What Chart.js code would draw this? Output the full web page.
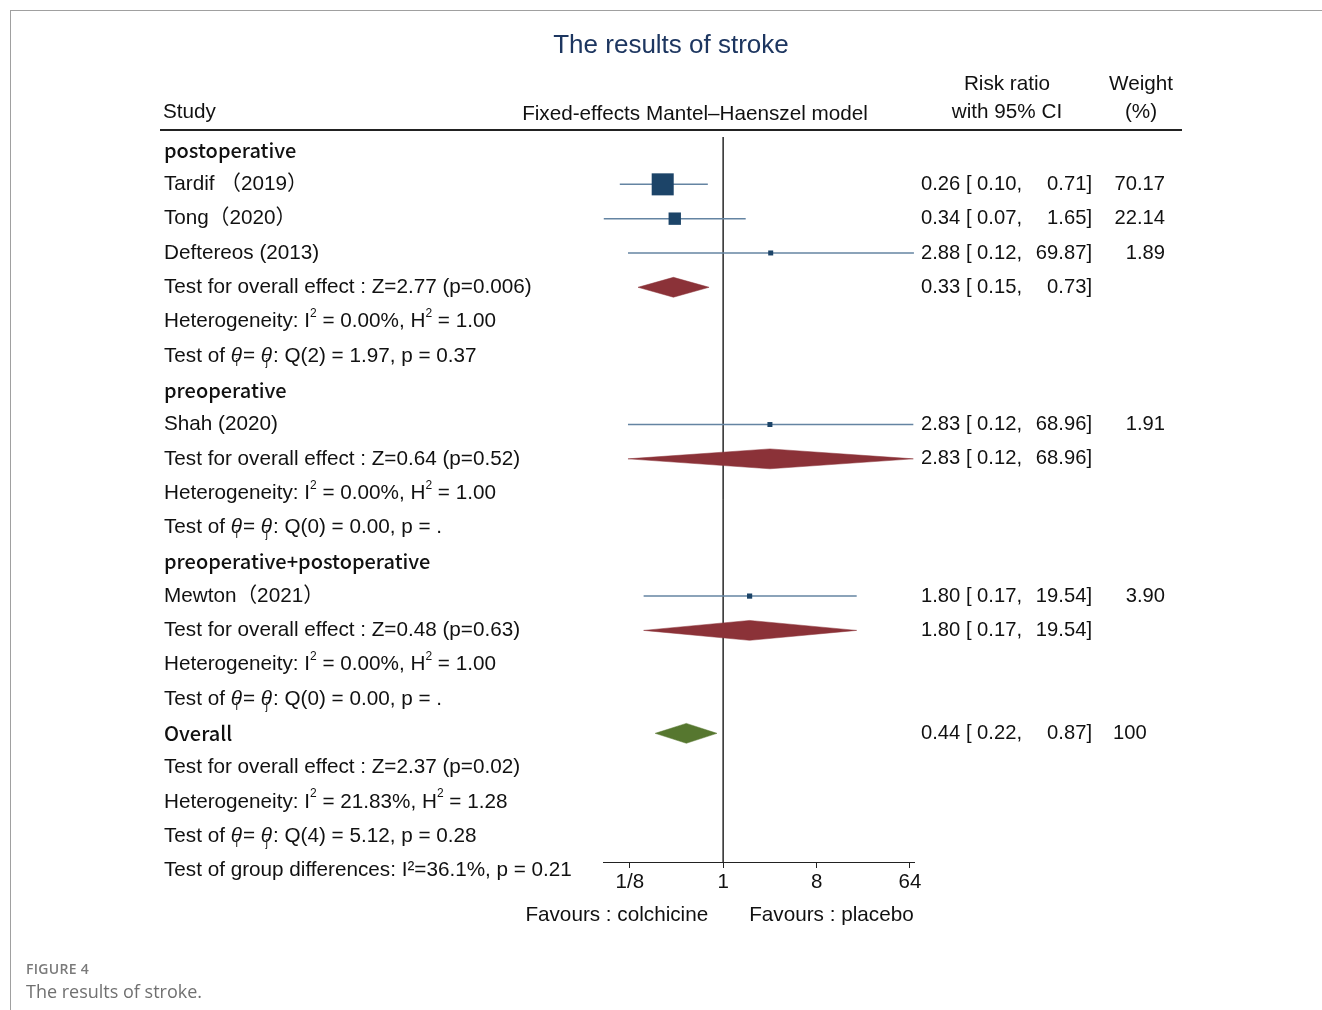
<!DOCTYPE html>
<html>
<head>
<meta charset="utf-8">
<title>The results of stroke</title>
<script src="https://cdn.jsdelivr.net/npm/chart.js@4.4.1/dist/chart.umd.min.js"></script>
<style>
  html, body { margin: 0; padding: 0; background: #fff; }
  #wrap { position: relative; width: 1322px; height: 1010px; overflow: hidden; }
  #frame-top { position: absolute; left: 10px; top: 10px; width: 1312px; height: 1px; background: #a0a0a0; }
  #frame-left { position: absolute; left: 10px; top: 10px; width: 1px; height: 1000px; background: #a0a0a0; }
  #forest { position: absolute; left: 0; top: 0; }
  .fig-no { position: absolute; left: 26px; top: 959px; font: 600 14px "Open Sans", "Noto Sans", sans-serif; color: #7a7a7a; letter-spacing: 0.3px; }
  .fig-cap { position: absolute; left: 26px; top: 979px; font: 18px "Open Sans", "Noto Sans", sans-serif; color: #707070; }
</style>
</head>
<body>
<div id="wrap">
  <div id="frame-top"></div>
  <div id="frame-left"></div>
  <canvas id="forest" width="1322" height="1010"></canvas>
  <div class="fig-no">FIGURE 4</div>
  <div class="fig-cap">The results of stroke.</div>
</div>
<script>
// ===== dados do forest plot =====
const groupNames = ['postoperative', 'preoperative', 'preoperative+postoperative'];

const studyNames = ['Tardif （2019）', 'Tong（2020）', 'Deftereos (2013)', 'Shah (2020)', 'Mewton（2021）'];
const studyGroup = [0, 0, 0, 1, 2];
const studyRR = [0.26, 0.34, 2.88, 2.83, 1.80];
const studyLo = [0.10, 0.07, 0.12, 0.12, 0.17];
const studyHi = [0.71, 1.65, 69.87, 68.96, 19.54];
const studyWeight = [70.17, 22.14, 1.89, 1.91, 3.90];

const groupRR = [0.33, 2.83, 1.80];
const groupLo = [0.15, 0.12, 0.17];
const groupHi = [0.73, 68.96, 19.54];
const groupEffect = ['Z=2.77 (p=0.006)', 'Z=0.64 (p=0.52)', 'Z=0.48 (p=0.63)'];
const groupI2 = ['0.00%', '0.00%', '0.00%'];
const groupH2 = ['1.00', '1.00', '1.00'];
const groupQ = ['Q(2) = 1.97, p = 0.37', 'Q(0) = 0.00, p = .', 'Q(0) = 0.00, p = .'];

const overallRR = 0.44;
const overallLo = 0.22;
const overallHi = 0.87;
const overallWeight = 100;
const overallEffect = 'Z=2.37 (p=0.02)';
const overallI2 = '21.83%';
const overallH2 = '1.28';
const overallQ = 'Q(4) = 5.12, p = 0.28';
const groupDiff = 'I²=36.1%, p = 0.21';

const xTicks = [0.125, 1, 8, 64];
const xTickLabels = ['1/8', '1', '8', '64'];

// ===== layout (pixels) =====
const PLOT_LEFT = 603, PLOT_RIGHT = 914, PLOT_TOP = 137, PLOT_BOTTOM = 862;
const AXIS_H = 44;
const Y_MIN = -0.38, Y_MAX = 20.75;
const DIAMOND_H = 0.29;   // meia altura do losango, em linhas
const ARIAL = '"Liberation Sans", Arial, "Noto Sans CJK SC", sans-serif';
const HEAD = '"Noto Sans CJK SC", "Noto Sans", sans-serif';
const FS = 20.7;          // texto da tabela
const FS_CI = 20.2;       // coluna do RR
const COL_TEXT = 163, COL_CI = 921, COL_CI_R = 1092, COL_W_R = 1165;

// monta as linhas da tabela
const rows = [];
groupNames.forEach((g, gi) => {
    rows.push({ kind: 'group', label: g });
    studyNames.forEach((s, si) => {
        if (studyGroup[si] !== gi) return;
        rows.push({ kind: 'study', label: s, rr: studyRR[si], lo: studyLo[si], hi: studyHi[si], w: studyWeight[si] });
    });
    rows.push({ kind: 'pooled', label: 'Test for overall effect : ' + groupEffect[gi], rr: groupRR[gi], lo: groupLo[gi], hi: groupHi[gi] });
    rows.push({ kind: 'note', label: 'Heterogeneity: I^{2} = ' + groupI2[gi] + ', H^{2} = ' + groupH2[gi] });
    rows.push({ kind: 'note', label: 'Test of θ_{i}= θ_{j}: ' + groupQ[gi] });
});
rows.push({ kind: 'overall', label: 'Overall', rr: overallRR, lo: overallLo, hi: overallHi, w: overallWeight });
rows.push({ kind: 'note', label: 'Test for overall effect : ' + overallEffect });
rows.push({ kind: 'note', label: 'Heterogeneity: I^{2} = ' + overallI2 + ', H^{2} = ' + overallH2 });
rows.push({ kind: 'note', label: 'Test of θ_{i}= θ_{j}: ' + overallQ });
rows.push({ kind: 'note', label: 'Test of group differences: ' + groupDiff });

// ===== datasets =====
const datasets = [];

// linha vertical em RR = 1
datasets.push({
    type: 'line',
    data: [{ x: 1, y: Y_MIN }, { x: 1, y: Y_MAX }],
    borderColor: '#3a3a3a',
    borderWidth: 1,
    pointRadius: 0,
    clip: false,
    order: 5
});

// intervalos de confiança dos estudos
rows.forEach((r, i) => {
    if (r.kind !== 'study') return;
    datasets.push({
        type: 'line',
        data: [{ x: r.lo, y: i }, { x: r.hi, y: i }],
        borderColor: '#6484a2',
        borderWidth: 1.5,
        pointRadius: 0,
        clip: false,
        order: 3
    });
});

// quadrados com área proporcional ao peso
const squarePts = [];
const squareRad = [];
rows.forEach((r, i) => {
    if (r.kind !== 'study') return;
    squarePts.push({ x: r.rr, y: i });
    const side = Math.max(5, 2.63 * Math.sqrt(r.w));
    squareRad.push(side / Math.SQRT2);
});
datasets.push({
    type: 'scatter',
    data: squarePts,
    pointStyle: 'rect',
    pointRadius: squareRad,
    backgroundColor: '#1c4468',
    borderColor: '#1c4468',
    borderWidth: 0,
    clip: false,
    order: 1
});

// losangos (subgrupos e geral)
rows.forEach((r, i) => {
    if (r.kind !== 'pooled' && r.kind !== 'overall') return;
    const color = r.kind === 'overall' ? '#56772f' : '#8b3238';
    datasets.push({
        type: 'line',
        data: [
            { x: r.lo, y: i },
            { x: r.rr, y: i - DIAMOND_H },
            { x: r.hi, y: i },
            { x: r.rr, y: i + DIAMOND_H },
            { x: r.lo, y: i }
        ],
        borderColor: color,
        backgroundColor: color,
        borderWidth: 0.5,
        pointRadius: 0,
        fill: 'shape',
        tension: 0,
        clip: false,
        order: 2
    });
});

// desenha texto com sobrescrito/subscrito
function drawRich(ctx, str, x, y, size) {
    const parts = str.split(/(\^\{[^}]*\}|_\{[^}]*\}|θ)/).filter(p => p !== '');
    let cx = x;
    parts.forEach(p => {
        if (p.startsWith('^{')) {
            const t = p.slice(2, -1);
            ctx.font = Math.round(size * 0.6) + 'px ' + ARIAL;
            ctx.fillText(t, cx, y - size * 0.38);
            cx += ctx.measureText(t).width;
        } else if (p.startsWith('_{')) {
            const t = p.slice(2, -1);
            ctx.font = Math.round(size * 0.55) + 'px ' + ARIAL;
            ctx.fillText(t, cx - size * 0.36, y + size * 0.36);
        } else if (p === 'θ') {
            ctx.font = 'italic ' + size + 'px ' + ARIAL;
            ctx.fillText(p, cx, y);
            cx += ctx.measureText(p).width + 1;
        } else {
            ctx.font = size + 'px ' + ARIAL;
            ctx.fillText(p, cx, y);
            cx += ctx.measureText(p).width;
        }
    });
}

const tablePlugin = {
    id: 'forestTable',
    afterDraw(chart) {
        const ctx = chart.ctx;
        const yScale = chart.scales.y;
        const xScale = chart.scales.x;
        ctx.save();
        ctx.textBaseline = 'middle';

        // título
        ctx.fillStyle = '#1d3660';
        ctx.font = '26px ' + ARIAL;
        ctx.textAlign = 'center';
        ctx.fillText('The results of stroke', 671, 46);

        // cabeçalho
        ctx.fillStyle = '#111';
        ctx.font = FS + 'px ' + ARIAL;
        ctx.textAlign = 'left';
        ctx.fillText('Study', COL_TEXT, 112);
        ctx.textAlign = 'center';
        ctx.fillText('Fixed-effects Mantel–Haenszel model', 695, 114);
        ctx.fillText('Risk ratio', 1007, 84);
        ctx.fillText('with 95% CI', 1007, 112);
        ctx.fillText('Weight', 1141, 84);
        ctx.fillText('(%)', 1141, 112);

        ctx.strokeStyle = '#222';
        ctx.lineWidth = 2;
        ctx.beginPath();
        ctx.moveTo(160, 130);
        ctx.lineTo(1182, 130);
        ctx.stroke();

        // linhas da tabela
        rows.forEach((r, i) => {
            const y = yScale.getPixelForValue(i);
            ctx.textAlign = 'left';
            if (r.kind === 'group' || r.kind === 'overall') {
                ctx.font = '500 20px ' + HEAD;
                ctx.fillText(r.label, COL_TEXT + 1, y);
            } else {
                drawRich(ctx, r.label, COL_TEXT + 1, y, FS);
            }
            if (r.rr !== undefined) {
                ctx.font = FS_CI + 'px ' + ARIAL;
                ctx.textAlign = 'left';
                ctx.fillText(r.rr.toFixed(2) + ' [ ' + r.lo.toFixed(2) + ',', COL_CI, y);
                ctx.textAlign = 'right';
                ctx.fillText(r.hi.toFixed(2) + ']', COL_CI_R, y);
            }
            if (r.w !== undefined) {
                if (r.kind === 'overall') {
                    ctx.textAlign = 'left';
                    ctx.fillText(String(r.w), 1113, y);
                } else {
                    ctx.textAlign = 'right';
                    ctx.fillText(r.w.toFixed(2), COL_W_R, y);
                }
            }
        });

        // rótulos "Favours"
        const x1 = xScale.getPixelForValue(1);
        ctx.font = FS + 'px ' + ARIAL;
        ctx.textAlign = 'right';
        ctx.fillText('Favours : colchicine', x1 - 15, 915);
        ctx.textAlign = 'left';
        ctx.fillText('Favours : placebo', x1 + 26, 915);
        ctx.restore();
    }
};

const ctx = document.getElementById('forest').getContext('2d');
new Chart(ctx, {
    type: 'scatter',
    data: { datasets: datasets },
    options: {
        responsive: false,
        animation: false,
        events: [],
        devicePixelRatio: 1,
        layout: {
            padding: {
                left: PLOT_LEFT,
                right: 1322 - PLOT_RIGHT,
                top: PLOT_TOP,
                bottom: 1010 - PLOT_BOTTOM - AXIS_H
            }
        },
        plugins: {
            legend: { display: false },
            tooltip: { enabled: false },
            title: { display: false }
        },
        scales: {
            x: {
                type: 'logarithmic',
                min: 0.0688,
                max: 70,
                afterBuildTicks: function(scale) {
                    scale.ticks = xTicks.map(v => ({ value: v }));
                },
                afterFit: function(scale) {
                    scale.height = AXIS_H;
                },
                grid: {
                    display: true,
                    drawOnChartArea: false,
                    drawTicks: true,
                    tickLength: 6,
                    color: '#222',
                    lineWidth: 1
                },
                border: { display: true, color: '#222', width: 1 },
                ticks: {
                    color: '#111',
                    padding: 2,
                    maxRotation: 0,
                    autoSkip: false,
                    font: { size: 20.5, family: ARIAL },
                    callback: function(value, index) {
                        return xTickLabels[index];
                    }
                }
            },
            y: {
                type: 'linear',
                display: false,
                reverse: true,
                min: Y_MIN,
                max: Y_MAX
            }
        }
    },
    plugins: [tablePlugin]
});
</script>
</body>
</html>
